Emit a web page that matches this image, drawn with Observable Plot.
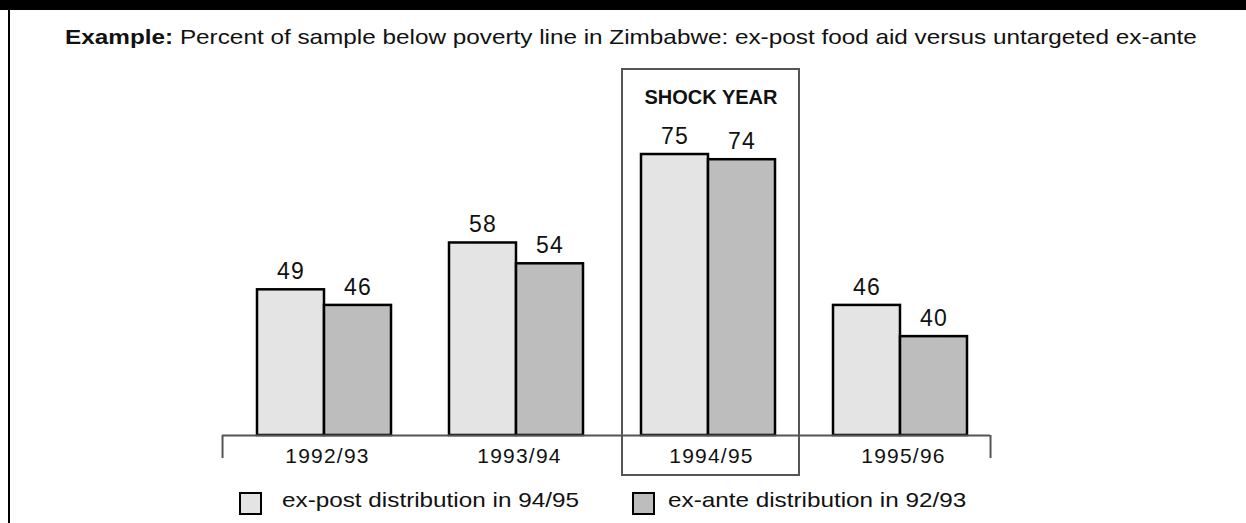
<!DOCTYPE html>
<html>
<head>
<meta charset="utf-8">
<script src="https://cdn.jsdelivr.net/npm/d3@7"></script>
<script src="https://cdn.jsdelivr.net/npm/@observablehq/plot@0.6"></script>
<style>
  body { margin: 0; background: #fff; font-family: "Liberation Sans", Arial, sans-serif; color: #111; }
  #page { position: relative; width: 1246px; height: 523px; overflow: hidden; background: #fff; }
  #band { position: absolute; left: 0; top: 0; width: 1246px; height: 10px; background: #000; }
  #edge { position: absolute; left: 8px; top: 0; width: 2px; height: 523px; background: #000; z-index: 2; }
  #head { position: relative; height: 58px; }
  #title { position: absolute; left: 16px; width: 1230px; top: 25px; text-align: center;
           font-size: 21px; line-height: 24px; white-space: nowrap;
           transform: scaleX(1.157); transform-origin: 615px 50%; }
  #chart { height: 422px; }
  #chart svg text { letter-spacing: 1.2px; }
  #chart svg g[font-weight="bold"] text { letter-spacing: 0; }
  #legend { position: relative; height: 43px; }
  .sw { position: absolute; top: 12px; width: 19px; height: 19px; border: 2.5px solid #000; }
  .lt { position: absolute; top: 9px; font-size: 21px; line-height: 21px; white-space: nowrap;
        transform: scaleX(1.156); transform-origin: 0 50%; }
</style>
</head>
<body>
<div id="page">
  <div id="edge"></div>
  <div id="head">
    <div id="band"></div>
    <div id="title"><b>Example:</b> Percent of sample below poverty line in Zimbabwe: ex-post food aid versus untargeted ex-ante</div>
  </div>
  <div id="chart"></div>
  <div id="legend"></div>
</div>
<script>
// Survey years and the two distribution scenarios
const years = ["1992/93", "1993/94", "1994/95", "1995/96"];
const series = ["ex-post distribution in 94/95", "ex-ante distribution in 92/93"];
const expost = [49, 58, 75, 46];   // % below poverty line, ex-post food aid
const exante = [46, 54, 74, 40];   // % below poverty line, untargeted ex-ante
const shockYear = ["1994/95"];
const shockLabel = "SHOCK YEAR";
const colors = ["#e4e4e4", "#bdbdbd"];

// value axis starts above zero, as in the printed figure
const yFloor = 21, yTop = 80;

const W = 1246, H = 422;
const ml = 222, mr = 256, mt = 70, mb = 45;
const pIn = 0.302, pOut = 0.151, align = 0.603;

// mirror of the band scale, used for half-band insets and bracket ends
const band = d3.scaleBand(years, [ml, W - mr]).paddingInner(pIn).paddingOuter(pOut).align(align);
const bw = band.bandwidth();
const half = bw / 2;
const dxLeft = ml - (band(years[0]) + half);
const dxRight = (W - mr) - (band(years[years.length - 1]) + half);
const frameH = H - mt - mb;

const post = years.map((year, i) => ({year, value: expost[i]}));
const ante = years.map((year, i) => ({year, value: exante[i]}));

const chart = Plot.plot({
  width: W,
  height: H,
  marginLeft: ml,
  marginRight: mr,
  marginTop: mt,
  marginBottom: mb,
  style: {fontFamily: "'Liberation Sans', Arial, sans-serif", color: "#111", background: "transparent"},
  x: {type: "band", domain: years, paddingInner: pIn, paddingOuter: pOut, align, axis: null},
  y: {domain: [yFloor, yTop], axis: null},
  marks: [
    // shock-year box
    Plot.cell(shockYear, {x: d => d, fill: "none", stroke: "#555", strokeWidth: 2,
      insetTop: -59, insetBottom: -40, insetLeft: -19, insetRight: -24}),
    Plot.text(shockYear, {x: d => d, text: () => shockLabel, frameAnchor: "top", lineAnchor: "middle",
      dy: -31, dx: 2.5, fontSize: 20, fontWeight: "bold", fill: "#111"}),
    // bars
    Plot.barY(post, {x: "year", y1: yFloor, y2: "value", fill: colors[0], stroke: "#000", strokeWidth: 2.5, insetRight: half}),
    Plot.barY(ante, {x: "year", y1: yFloor, y2: "value", fill: colors[1], stroke: "#000", strokeWidth: 2.5, insetLeft: half}),
    // category bracket
    Plot.ruleY([yFloor], {stroke: "#555", strokeWidth: 2}),
    Plot.ruleX([years[0]], {dx: dxLeft, insetTop: frameH, insetBottom: -23, stroke: "#555", strokeWidth: 2}),
    Plot.ruleX([years[years.length - 1]], {dx: dxRight, insetTop: frameH, insetBottom: -23, stroke: "#555", strokeWidth: 2}),
    // value labels
    Plot.text(post, {x: "year", y: "value", text: d => String(d.value), dx: -bw / 4, dy: -18, fontSize: 23, fill: "#111"}),
    Plot.text(ante, {x: "year", y: "value", text: d => String(d.value), dx: bw / 4, dy: -18, fontSize: 23, fill: "#111"}),
    // year labels
    Plot.text(years, {x: d => d, frameAnchor: "bottom", lineAnchor: "middle", dy: 20.5, dx: 3, fontSize: 21, fill: "#111"})
  ]
});
document.getElementById("chart").appendChild(chart);

// legend
const legend = d3.select("#legend");
const swLeft = [239, 632], textLeft = [282, 668];
series.forEach((s, i) => {
  legend.append("div").attr("class", "sw").style("left", swLeft[i] + "px").style("background", colors[i]);
  legend.append("div").attr("class", "lt").style("left", textLeft[i] + "px").text(s);
});
</script>
</body>
</html>
